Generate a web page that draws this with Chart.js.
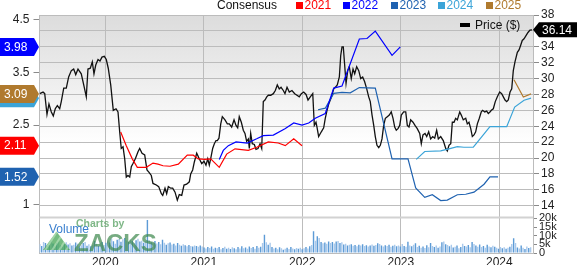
<!DOCTYPE html>
<html>
<head>
<meta charset="utf-8">
<script src="https://cdn.jsdelivr.net/npm/chart.js@4.4.1/dist/chart.umd.min.js"></script>
<style>
  html, body { margin: 0; padding: 0; background: #fff; }
  canvas { display: block; }
</style>
</head>
<body>
<canvas id="chart" width="577" height="265"></canvas>
<script>
// ---- data (x = decimal year) ----
const yearTicks = [2020, 2021, 2022, 2023, 2024];
const epsTicks = [1, 2.5, 3.5, 4.5];
const priceTicks = [14, 16, 18, 20, 22, 24, 26, 28, 30, 32, 34, 36, 38];
const volumeTicks = [0, 5, 10, 15, 20];
const consensusYears = ['2021', '2022', '2023', '2024', '2025'];

const pricePoints = [
  [2019.334,28.1],[2019.368,28.3],[2019.385,28.1],[2019.408,25.5],[2019.428,26.8],[2019.452,25.8],[2019.472,25.3],[2019.492,26.2],
  [2019.513,26.6],[2019.537,26.2],[2019.553,27.1],[2019.578,28.8],[2019.604,28.8],[2019.628,30.2],[2019.655,31.0],[2019.679,31.2],
  [2019.700,30.5],[2019.723,31.2],[2019.756,30.6],[2019.781,29.2],[2019.807,27.7],[2019.824,31.2],[2019.848,31.3],[2019.868,32.1],
  [2019.885,30.6],[2019.903,31.7],[2019.926,32.4],[2019.946,32.2],[2019.966,32.7],[2019.990,32.8],[2020.010,32.4],[2020.030,31.3],
  [2020.055,29.2],[2020.081,26.0],[2020.109,26.2],[2020.129,25.8],[2020.146,23.3],[2020.162,21.2],[2020.180,21.4],[2020.197,19.9],
  [2020.213,17.6],[2020.230,17.8],[2020.248,17.6],[2020.264,18.9],[2020.281,19.3],[2020.305,19.9],[2020.332,20.8],[2020.349,21.2],
  [2020.373,20.6],[2020.400,20.4],[2020.423,18.5],[2020.444,18.2],[2020.467,17.8],[2020.484,16.8],[2020.518,16.6],[2020.542,16.4],
  [2020.569,15.5],[2020.583,15.3],[2020.606,16.2],[2020.623,15.5],[2020.640,16.4],[2020.664,16.2],[2020.684,16.2],[2020.708,15.7],
  [2020.731,14.7],[2020.751,15.4],[2020.776,15.3],[2020.799,16.6],[2020.826,16.7],[2020.853,17.0],[2020.867,18.0],[2020.887,18.5],
  [2020.904,19.5],[2020.928,20.6],[2020.954,19.9],[2020.979,19.3],[2021.002,19.6],[2021.022,19.1],[2021.040,19.9],[2021.056,19.1],
  [2021.073,20.1],[2021.090,21.2],[2021.107,21.8],[2021.124,22.2],[2021.137,22.2],[2021.154,22.5],[2021.172,24.3],[2021.188,25.2],
  [2021.215,24.8],[2021.239,24.3],[2021.259,24.3],[2021.283,23.9],[2021.307,24.8],[2021.327,24.1],[2021.344,23.8],[2021.360,25.2],
  [2021.381,24.5],[2021.401,23.5],[2021.418,23.1],[2021.435,22.1],[2021.452,22.4],[2021.462,21.2],[2021.476,23.1],[2021.492,21.8],
  [2021.513,21.7],[2021.530,21.1],[2021.550,21.2],[2021.571,21.8],[2021.588,21.2],[2021.604,27.1],[2021.621,27.3],[2021.639,27.7],
  [2021.655,27.9],[2021.679,27.9],[2021.706,28.1],[2021.726,28.5],[2021.746,29.2],[2021.766,28.7],[2021.784,28.9],[2021.807,28.5],
  [2021.824,28.1],[2021.845,28.9],[2021.868,28.3],[2021.895,28.5],[2021.923,28.1],[2021.946,27.9],[2021.969,27.7],[2021.990,28.1],
  [2022.014,28.3],[2022.038,28.0],[2022.058,27.3],[2022.081,27.7],[2022.106,28.1],[2022.122,24.1],[2022.139,24.5],[2022.149,23.9],
  [2022.166,22.7],[2022.193,23.3],[2022.217,23.8],[2022.233,25.0],[2022.251,26.0],[2022.268,26.8],[2022.294,27.6],[2022.319,28.7],
  [2022.335,28.9],[2022.355,29.2],[2022.376,30.2],[2022.390,32.9],[2022.403,34.0],[2022.416,34.0],[2022.430,31.7],[2022.444,29.4],
  [2022.461,31.0],[2022.477,31.5],[2022.497,30.0],[2022.515,31.2],[2022.532,30.6],[2022.552,31.5],[2022.573,31.0],[2022.593,30.0],
  [2022.613,30.2],[2022.633,29.6],[2022.654,28.7],[2022.674,27.7],[2022.690,27.1],[2022.708,25.4],[2022.725,24.1],[2022.741,22.7],
  [2022.758,21.6],[2022.776,21.3],[2022.792,21.6],[2022.809,22.4],[2022.826,24.1],[2022.843,25.0],[2022.863,25.2],[2022.883,25.4],
  [2022.903,25.8],[2022.921,25.0],[2022.938,23.9],[2022.954,23.5],[2022.971,23.7],[2022.989,24.1],[2023.005,25.4],[2023.029,25.8],
  [2023.050,25.8],[2023.066,24.1],[2023.083,23.9],[2023.100,24.8],[2023.124,24.5],[2023.144,24.1],[2023.167,23.7],[2023.192,23.1],
  [2023.208,21.8],[2023.225,22.9],[2023.246,23.1],[2023.263,22.7],[2023.283,23.3],[2023.303,22.4],[2023.324,22.7],[2023.344,22.5],
  [2023.364,23.5],[2023.381,22.4],[2023.405,22.7],[2023.431,22.2],[2023.456,21.2],[2023.472,20.9],[2023.489,21.6],[2023.507,21.8],
  [2023.523,24.5],[2023.540,24.5],[2023.557,25.0],[2023.574,24.8],[2023.598,25.8],[2023.614,25.4],[2023.634,24.8],[2023.659,25.0],
  [2023.675,24.3],[2023.692,24.5],[2023.710,23.7],[2023.726,22.7],[2023.743,22.9],[2023.760,23.3],[2023.777,24.3],[2023.797,25.0],
  [2023.817,25.8],[2023.831,26.0],[2023.852,25.8],[2023.872,25.9],[2023.888,25.6],[2023.905,25.8],[2023.919,26.0],[2023.939,26.2],
  [2023.959,27.1],[2023.980,27.7],[2024.004,28.3],[2024.024,28.1],[2024.041,27.7],[2024.058,27.3],[2024.075,27.1],[2024.091,27.3],
  [2024.109,28.3],[2024.126,28.7],[2024.142,31.0],[2024.159,32.1],[2024.183,33.3],[2024.200,33.6],[2024.217,34.2],[2024.233,34.8],
  [2024.251,35.0],[2024.271,35.4],[2024.291,35.8],[2024.311,36.1],[2024.332,36.14]
];

// EPS consensus per fiscal year
const cons2021 = [[2020.156,2.37],[2020.213,2.11],[2020.274,1.86],[2020.325,1.70],[2020.416,1.70],[2020.484,1.78],[2020.535,1.76],
  [2020.586,1.73],[2020.657,1.72],[2020.741,1.76],[2020.832,1.93],[2020.893,1.93],[2020.944,1.86],[2021.012,1.85],[2021.070,1.86],
  [2021.157,1.70],[2021.232,1.95],[2021.317,2.05],[2021.452,2.02],[2021.537,2.08],[2021.655,2.18],[2021.756,2.16],[2021.827,2.11],
  [2021.913,2.24],[2021.997,2.11]];
const cons2022 = [[2021.157,1.85],[2021.198,2.02],[2021.249,2.11],[2021.327,2.18],[2021.442,2.16],[2021.537,2.24],[2021.604,2.30],
  [2021.706,2.31],[2021.824,2.43],[2021.913,2.54],[2021.997,2.50],[2022.065,2.54],[2022.132,2.63],[2022.233,2.72],[2022.319,3.20],
  [2022.403,3.24],[2022.579,4.13],[2022.657,4.14],[2022.741,4.28],[2022.911,3.82],[2022.995,3.98]];
const cons2023 = [[2022.160,2.79],[2022.233,2.82],[2022.319,3.10],[2022.403,3.12],[2022.487,3.11],[2022.579,3.21],[2022.741,3.20],
  [2022.911,1.86],[2023.073,1.86],[2023.151,1.31],[2023.243,1.13],[2023.320,1.18],[2023.405,1.07],[2023.472,1.08],[2023.574,1.18],
  [2023.659,1.19],[2023.743,1.23],[2023.845,1.38],[2023.905,1.52],[2023.987,1.52]];
const cons2024 = [[2023.157,1.85],[2023.243,2.00],[2023.405,2.01],[2023.489,2.05],[2023.574,2.09],[2023.641,2.08],[2023.736,2.08],
  [2023.827,2.29],[2023.905,2.47],[2023.987,2.47],[2024.075,2.47],[2024.156,2.84],[2024.251,2.97],[2024.322,3.01]];
const cons2025 = [[2024.149,3.36],[2024.244,3.03],[2024.322,3.09]];

// weekly volume (thousands), first bar = week of early May 2019
const volumeFirstWeek = 2019.335;
const volumeK = [
  5.2,4.1,6.3,5.8,3.9,4.6,6.8,5.5,4.2,5.9,6.6,4.4,3.8,5.1,6.2,4.9,5.6,4.3,
  4.8,6.1,5.3,3.7,4.5,5.8,6.4,4.2,5.0,3.9,4.7,6.9,5.4,4.1,5.7,6.3,4.6,
  5.9,7.2,6.1,8.3,6.8,5.4,7.6,8.1,6.5,7.9,8.6,7.2,6.4,7.8,6.9,5.8,7.4,8.2,6.6,7.1,5.9,6.8,
  19.0,
  7.4,6.2,5.8,6.9,5.5,6.3,5.1,7.7,5.9,4.8,5.6,6.1,4.9,5.3,4.4,5.8,4.7,4.2,5.0,4.5,3.9,4.6,4.1,3.7,4.4,4.0,3.6,4.3,3.8,
  3.2,2.6,3.5,2.9,3.8,2.4,3.1,2.7,3.4,2.2,2.9,3.6,2.5,3.0,2.3,3.3,2.8,2.1,3.5,2.6,3.9,2.7,3.2,2.4,3.7,2.9,3.4,2.5,4.1,3.0,3.6,5.8,
  10.5,
  6.2,4.8,5.9,3.4,2.6,3.1,2.2,3.3,2.7,1.9,2.5,3.0,2.3,3.4,2.6,2.1,2.9,2.4,
  3.1,2.2,2.8,3.4,2.6,3.9,4.6,
  12.5,
  7.0,9.6,8.7,6.3,5.6,6.1,5.4,6.6,5.8,6.3,5.5,6.7,6.9,5.7,6.2,
  4.9,5.3,4.4,4.8,5.1,4.2,4.6,3.9,4.7,4.3,5.0,4.1,4.5,3.8,4.4,4.9,4.2,4.6,5.6,5.2,4.3,3.7,4.5,4.0,4.8,3.6,4.2,4.7,3.9,
  4.4,3.8,5.2,4.1,3.6,6.5,4.3,3.9,4.8,5.6,3.4,4.2,3.1,3.7,2.9,4.5,3.3,5.7,4.0,3.5,4.4,3.0,3.8,6.2,6.6,5.1,
  4.6,3.9,4.8,3.2,3.6,4.3,2.8,3.5,5.4,4.1,3.7,4.6,3.3,6.3,5.2,4.4,3.6,4.9,3.4,4.0,3.1,4.7,3.8,3.3,4.2,3.6,
  3.0,2.5,3.4,2.8,3.3,2.4,3.1,3.6,5.2,8.5,5.8,3.2,2.6,4.4,3.1,2.3,3.7,2.9,3.3
];

// ---- styling ----
const FONT = '"Liberation Sans", Arial, Helvetica, sans-serif';
const seriesColor = { '2021': '#ff0000', '2022': '#0000ff', '2023': '#1f62b0', '2024': '#3ba4d8', '2025': '#b07a2e' };
const consensusData = { '2021': cons2021, '2022': cons2022, '2023': cons2023, '2024': cons2024, '2025': cons2025 };
const xMin = 2019.332, xMax = 2024.342;
const weekLen = 7 / 365.25;
const gridGray = '#bcbcbc';

const toXY = pts => pts.map(([x, y]) => ({ x, y }));

const datasets = [];
consensusYears.forEach(yr => {
  datasets.push({
    type: 'line', label: yr, yAxisID: 'eps', data: toXY(consensusData[yr]),
    borderColor: seriesColor[yr], borderWidth: 1.2, pointRadius: 0, tension: 0, fill: false
  });
});
datasets.push({
  type: 'line', label: 'Price ($)', yAxisID: 'price', data: toXY(pricePoints),
  borderColor: '#111', borderWidth: 1.3, pointRadius: 0, tension: 0, fill: false
});
datasets.push({
  type: 'bar', label: 'Volume', yAxisID: 'vol',
  data: volumeK.map((v, i) => ({ x: volumeFirstWeek + i * weekLen, y: v })),
  backgroundColor: volumeK.map((v, i) => (i % 2 ? '#5d9bd6' : '#a9c9ec')),
  borderWidth: 0, barPercentage: 0.75, categoryPercentage: 1
});

function setTicks(list) {
  return scale => { scale.ticks = list.map(v => ({ value: v })); };
}

function badge(ctx, x0, x1, tip, y, h, color, text, pointLeft) {
  ctx.beginPath();
  if (pointLeft) {
    ctx.moveTo(tip, y); ctx.lineTo(x0, y - h / 2); ctx.lineTo(x1, y - h / 2);
    ctx.lineTo(x1, y + h / 2); ctx.lineTo(x0, y + h / 2);
  } else {
    ctx.moveTo(x0, y - h / 2); ctx.lineTo(x1, y - h / 2); ctx.lineTo(tip, y);
    ctx.lineTo(x1, y + h / 2); ctx.lineTo(x0, y + h / 2);
  }
  ctx.closePath();
  ctx.fillStyle = color; ctx.fill();
  ctx.fillStyle = '#fff';
  ctx.font = '12px ' + FONT;
  ctx.textBaseline = 'middle'; ctx.textAlign = 'left';
  ctx.fillText(text, pointLeft ? x0 + 3 : 4, y + 0.5);
}

const decor = {
  id: 'decor',
  beforeDraw(chart) {
    const { ctx, chartArea: a, scales } = chart;
    const g = ctx.createLinearGradient(0, a.top, 0, a.top + 130);
    g.addColorStop(0, '#dcdcdc');
    g.addColorStop(1, '#ffffff');
    ctx.save();
    ctx.fillStyle = g;
    ctx.fillRect(a.left, a.top, a.right - a.left, scales.price.bottom - a.top);
    ctx.restore();
  },
  beforeDatasetsDraw(chart) {
    const { ctx, chartArea: a, scales } = chart;
    ctx.save();
    ctx.strokeStyle = '#d2d2d2';
    ctx.lineWidth = 2;
    ctx.beginPath();
    ctx.moveTo(a.left, scales.price.bottom - 0.5);
    ctx.lineTo(a.right, scales.price.bottom - 0.5);
    ctx.stroke();
    ctx.strokeStyle = gridGray;
    ctx.lineWidth = 1;
    ctx.beginPath();
    ctx.moveTo(a.left, a.top + 0.5);
    ctx.lineTo(a.right, a.top + 0.5);
    ctx.stroke();
    ctx.restore();
  },
  afterDraw(chart) {
    const { ctx, chartArea: a, scales } = chart;
    ctx.save();

    // Zacks watermark in the volume pane
    ctx.beginPath();
    ctx.moveTo(56.5, 231.5); ctx.lineTo(70, 250); ctx.lineTo(43, 250); ctx.closePath();
    ctx.fillStyle = 'rgba(70,165,85,0.75)';
    ctx.fill();
    ctx.save();
    ctx.clip();
    ctx.strokeStyle = 'rgba(200,235,200,0.55)';
    ctx.lineWidth = 2;
    for (let k = 0; k < 4; k++) {
      ctx.beginPath();
      ctx.moveTo(44 + k * 7, 252); ctx.lineTo(58 + k * 7, 230);
      ctx.stroke();
    }
    ctx.restore();
    ctx.textAlign = 'left';
    ctx.textBaseline = 'alphabetic';
    ctx.fillStyle = 'rgba(95,165,105,0.8)';
    ctx.font = 'bold 10.5px ' + FONT;
    ctx.fillText('Charts by', 76, 226.5);
    ctx.fillStyle = 'rgba(60,135,75,0.7)';
    ctx.font = 'bold 24px ' + FONT;
    ctx.fillText('ZACKS', 74, 250.5);
    ctx.fillStyle = '#3b80cf';
    ctx.font = '12px ' + FONT;
    ctx.fillText('Volume', 49, 233);

    // top legend
    ctx.textBaseline = 'middle';
    ctx.fillStyle = '#111';
    ctx.font = '12px ' + FONT;
    ctx.fillText('Consensus', 217, 5.5);
    const legendX = [296, 343, 391, 438, 486];
    consensusYears.forEach((yr, i) => {
      ctx.fillStyle = seriesColor[yr];
      ctx.fillRect(legendX[i], 2, 7, 7);
      ctx.fillText(yr, legendX[i] + 8.5, 5.5);
    });

    // price legend
    ctx.fillStyle = '#000';
    ctx.fillRect(460, 23, 10, 4);
    ctx.fillStyle = '#111';
    ctx.fillText('Price ($)', 475, 25.5);

    // latest-value badges
    consensusYears.forEach(yr => {
      const d = consensusData[yr];
      const v = d[d.length - 1][1];
      const y = scales.eps.getPixelForValue(v);
      badge(ctx, 0, 34, 39, y, 18, seriesColor[yr], v.toFixed(2), false);
    });
    const last = pricePoints[pricePoints.length - 1][1];
    badge(ctx, 539, 577, a.right, scales.price.getPixelForValue(last), 15, '#000', last.toFixed(2), true);

    ctx.restore();
  }
};

const tickFont = { family: FONT, size: 12 };

new Chart(document.getElementById('chart'), {
  type: 'line',
  data: { datasets },
  plugins: [decor],
  options: {
    responsive: false,
    animation: false,
    events: [],
    layout: { padding: { top: 15 } },
    plugins: { legend: { display: false }, tooltip: { enabled: false } },
    scales: {
      x: {
        type: 'linear', min: xMin, max: xMax, offset: false,
        afterBuildTicks: setTicks(yearTicks),
        afterFit: s => { s.height = 12; },
        grid: { color: gridGray, drawTicks: false, offset: false },
        border: { color: gridGray },
        ticks: { font: tickFont, color: '#222', padding: 2, maxRotation: 0, autoSkip: false, callback: v => String(v) }
      },
      eps: {
        position: 'left', min: 0.077, max: 4.585,
        afterBuildTicks: setTicks(epsTicks),
        afterFit: s => { s.width = 39.5; },
        grid: { drawOnChartArea: false, tickLength: 6, color: '#8a8a8a' },
        border: { color: gridGray },
        ticks: { font: tickFont, color: '#222', padding: 4, autoSkip: false, callback: v => String(v) }
      },
      price: {
        position: 'right', stack: 'right', stackWeight: 203, min: 12.45, max: 38,
        afterBuildTicks: setTicks(priceTicks),
        afterFit: s => { s.width = 44; },
        grid: { color: gridGray, tickLength: 6, tickColor: '#8a8a8a' },
        border: { color: gridGray },
        ticks: { font: tickFont, color: '#222', padding: 2, autoSkip: false, callback: v => String(v) }
      },
      vol: {
        position: 'right', stack: 'right', stackWeight: 35, min: 0, max: 20.2,
        afterBuildTicks: setTicks(volumeTicks),
        afterFit: s => { s.width = 44; },
        grid: { drawOnChartArea: false, tickLength: 4, color: '#8a8a8a' },
        border: { color: gridGray },
        ticks: { font: { family: FONT, size: 11 }, color: '#222', padding: 2, autoSkip: false, callback: v => (v === 0 ? '0' : v + 'k') }
      }
    }
  }
});
</script>
</body>
</html>
